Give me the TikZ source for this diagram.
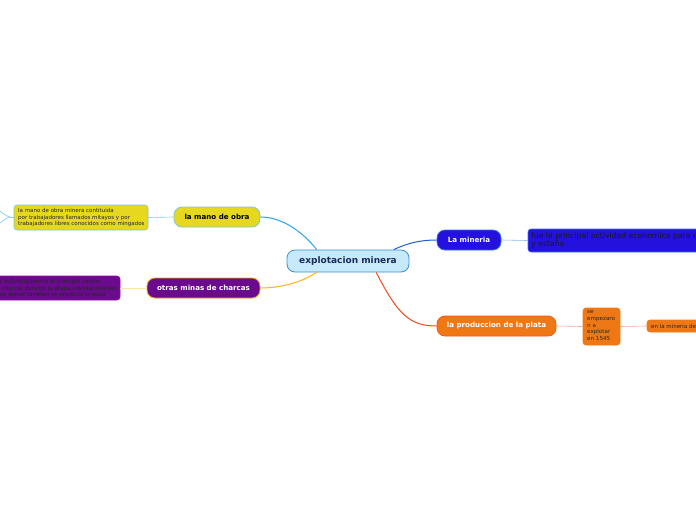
\documentclass[tikz,border=0pt]{standalone}
\usepackage{fontspec}
\setmainfont{DejaVu Sans}
\definecolor{cfill}{HTML}{C6E9FB}
\definecolor{cdraw}{HTML}{3D8FD1}
\definecolor{ctext}{HTML}{1A2A5A}
\definecolor{yfill}{HTML}{E6D81E}
\definecolor{ydraw}{HTML}{7FC8D0}
\definecolor{ylink}{HTML}{22A8E8}
\definecolor{pfill}{HTML}{6A0A8C}
\definecolor{pdraw}{HTML}{F0A010}
\definecolor{plink}{HTML}{F9B512}
\definecolor{plink2}{HTML}{FDE6A0}
\definecolor{bfill}{HTML}{2411DE}
\definecolor{bdraw}{HTML}{3A70E8}
\definecolor{blink}{HTML}{1A5FD6}
\definecolor{blink2}{HTML}{8CB8F0}
\definecolor{ofill}{HTML}{F07814}
\definecolor{odraw}{HTML}{F05A1A}
\definecolor{olink}{HTML}{F04C1C}
\definecolor{olink2}{HTML}{F8A888}
\tikzset{
  topic/.style={draw, line width=0.8pt, rounded corners=8pt, inner sep=0pt, font=\fontsize{7.1}{8}\selectfont\bfseries},
  sub/.style={draw, line width=0.6pt, rounded corners=3pt, inner sep=0pt},
  small/.style={inner sep=0pt, anchor=north west, align=left, font=\fontsize{5.5}{6.6}\selectfont},
  line/.style={inner sep=0pt, anchor=east, font=\fontsize{5.5}{6.6}\selectfont, text=black!85},
  link/.style={line width=1pt},
  thin/.style={line width=0.6pt}
}
\begin{document}
\begin{tikzpicture}[x=1pt,y=-1pt]
\useasboundingbox (0,0) rectangle (696,520);
\clip (0,0) rectangle (696,520);
\fill[white] (0,0) rectangle (696,520);
% central
\node[topic, fill=cfill, draw=cdraw, text=ctext, minimum width=122pt, minimum height=22pt, font=\fontsize{9}{10}\selectfont\bfseries] (c) at (348,261) {explotacion minera};
% left upper
\node[topic, fill=yfill, draw=ydraw, text=black, minimum width=86pt, minimum height=20pt] (mano) at (217,217) {la mano de obra};
\node[sub, fill=yfill, draw=ydraw, minimum width=134pt, minimum height=25pt] (yb) at (81,217.5) {};
\node[small, text=black!85] (ybt) at (18,208.3) {la mano de obra minera contituida\\por trabajadores llamados mitayos y por\\trabajadores libres conocidos como mingados};
% left lower
\node[topic, fill=pfill, draw=pdraw, text=white, minimum width=113pt, minimum height=20pt] (otras) at (203.5,288) {otras minas de charcas};
\node[sub, fill=pfill, draw=pfill!70!magenta, minimum width=134pt, minimum height=24pt] (pb) at (53,288) {};
\node[line] (p1) at (100,282.2) {a individualmente el principal centro};
\node[line] (p2) at (117,288.6) {charcas durante la etapa colonial,existian};
\node[line] (p3) at (106,295) {ros donde tambien se producia la plata};
% right upper
\node[topic, fill=bfill, draw=bdraw, text=white, minimum width=64pt, minimum height=20pt] (min) at (469,240) {La mineria};
\node[sub, fill=bfill, draw=bdraw, minimum width=192pt, minimum height=23pt] (bb) at (624,240.5) {};
\node[inner sep=0pt, anchor=north west, align=left, font=\fontsize{7.7}{8.2}\selectfont, text=black!90] (bbt) at (531,232.2) {fue la principal actividad economica para europ\\y estaña};
% right lower
\node[topic, fill=ofill, draw=odraw, text=white, minimum width=119pt, minimum height=20pt] (prod) at (496.5,326) {la produccion de la plata};
\node[sub, fill=ofill, draw=ofill, minimum width=37pt, minimum height=37pt] (sb) at (601.5,326.5) {};
\node[small, text=black!85, font=\fontsize{5.6}{6.6}\selectfont] (sbt) at (587,310.5) {se\\empezaro\\n a\\explotar\\en 1545};
\node[sub, fill=ofill, draw=ofill, minimum width=73pt, minimum height=12pt] (eb) at (683.5,326) {};
\node[inner sep=0pt, anchor=west, font=\fontsize{5.5}{6}\selectfont, text=black!85] (ebt) at (651,326.3) {en la mineria de};
% connectors
\draw[link, ylink] (c.160) .. controls (303,232) and (282,217) .. (mano.east);
\draw[link, plink] (c.200) .. controls (300,283) and (280,288) .. (otras.east);
\draw[link, blink] (c.14) .. controls (408,243) and (420,240) .. (min.west);
\draw[link, olink] (c.338) .. controls (398,315) and (410,326) .. (prod.west);
\draw[thin, ylink!60] (mano.west) -- (yb.east);
\draw[thin, plink2] (otras.west) -- (pb.east);
\draw[thin, blink2] (min.east) -- (bb.west);
\draw[thin, olink2] (prod.east) -- (sb.west);
\draw[thin, olink2] (sb.east) -- (eb.west);
\coordinate (l1) at (0,211);
\coordinate (l2) at (0,223);
\draw[thin, ylink!60] (yb.west) .. controls (8,217) .. (l1);
\draw[thin, ylink!60] (yb.west) .. controls (8,217) .. (l2);
\end{tikzpicture}
\end{document}
